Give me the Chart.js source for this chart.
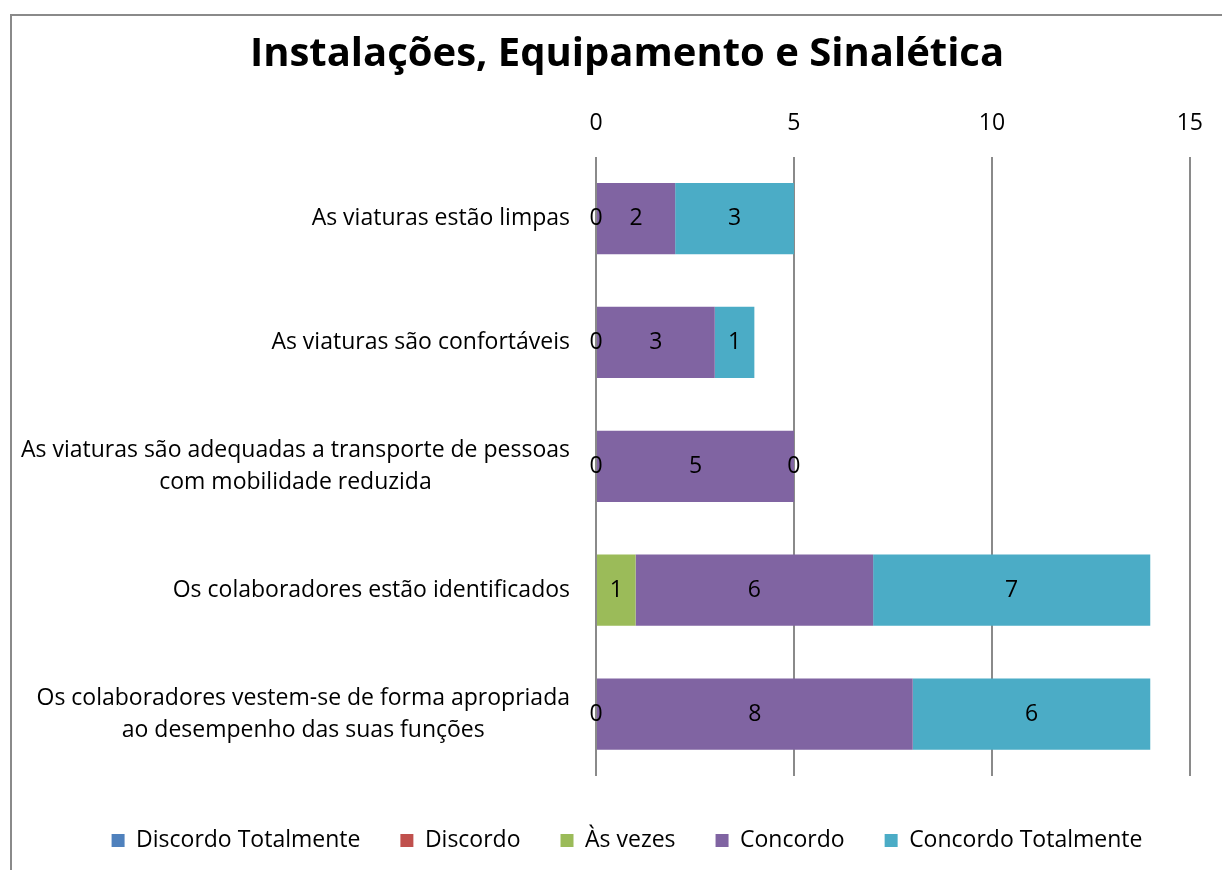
<!DOCTYPE html>
<html><head><meta charset="utf-8">
<script src="https://cdn.jsdelivr.net/npm/chart.js@4/dist/chart.umd.min.js"></script>
<style>html,body{margin:0;padding:0;background:#fff;overflow:hidden}#wrap{width:1222px;height:870px;position:relative}</style>
</head><body><div id="wrap"><canvas id="c" width="1222" height="870"></canvas></div>
<script>
const categories = [
  "As viaturas estão limpas",
  "As viaturas são confortáveis",
  ["As viaturas são adequadas a transporte de pessoas", "com mobilidade reduzida"],
  "Os colaboradores estão identificados",
  ["Os colaboradores vestem-se de forma apropriada", "ao desempenho das suas funções"]
];
const discordoTotalmente = [null, null, null, null, null];
const discordo = [null, null, null, null, null];
const asVezes = [0, 0, 0, 1, 0];
const concordo = [2, 3, 5, 6, 8];
const concordoTotalmente = [3, 1, 0, 7, 6];
const xTicks = [0, 5, 10, 15];

const FONT = "'Open Sans', sans-serif";

const frame = {
  id: 'frame',
  beforeDraw(chart) {
    const c = chart.ctx;
    c.save();
    c.fillStyle = '#fff';
    c.fillRect(0, 0, chart.width, chart.height);
    c.strokeStyle = '#8a8a8a';
    c.lineWidth = 2;
    c.strokeRect(11, 15, 1400, 1000);
    c.restore();
  }
};
// Category labels: block right-aligned next to the axis, lines centred within the block
const categoryLabels = {
  id: 'categoryLabels',
  afterDraw(chart) {
    const c = chart.ctx;
    const ys = chart.scales.y;
    const lh = 32.2;
    c.save();
    c.font = "23px " + FONT;
    c.fillStyle = '#000';
    c.textAlign = 'center';
    c.textBaseline = 'middle';
    const right = chart.chartArea.left - 26;
    chart.data.labels.forEach((lab, i) => {
      const lines = Array.isArray(lab) ? lab : [lab];
      const w = Math.max(...lines.map(l => c.measureText(l).width));
      const cx = right - w / 2;
      const y0 = ys.getPixelForValue(i) - (lines.length - 1) * lh / 2;
      lines.forEach((l, k) => c.fillText(l, cx, y0 + k * lh));
    });
    c.restore();
  }
};
const valueLabels = {
  id: 'valueLabels',
  afterDatasetsDraw(chart) {
    const c = chart.ctx;
    c.save();
    c.font = "23px " + FONT;
    c.fillStyle = '#000';
    c.textAlign = 'center';
    c.textBaseline = 'middle';
    chart.data.datasets.forEach((ds, i) => {
      const meta = chart.getDatasetMeta(i);
      if (meta.hidden) return;
      meta.data.forEach((el, j) => {
        const v = ds.data[j];
        if (v === null || v === undefined) return;
        const p = el.getProps(['x', 'y', 'base'], true);
        c.fillText(String(v), (p.x + p.base) / 2, p.y);
      });
    });
    c.restore();
  }
};

new Chart(document.getElementById('c'), {
  type: 'bar',
  data: {
    labels: categories,
    datasets: [
      { label: 'Discordo Totalmente', data: discordoTotalmente, backgroundColor: '#4F81BD' },
      { label: 'Discordo', data: discordo, backgroundColor: '#C0504D' },
      { label: 'Às vezes', data: asVezes, backgroundColor: '#9BBB59' },
      { label: 'Concordo', data: concordo, backgroundColor: '#8064A2' },
      { label: 'Concordo Totalmente', data: concordoTotalmente, backgroundColor: '#4BACC6' }
    ]
  },
  options: {
    indexAxis: 'y',
    responsive: false,
    animation: false,
    datasets: { bar: { barPercentage: 0.575, categoryPercentage: 1.0, borderWidth: 0 } },
    layout: { padding: { left: 62, right: 30, top: 31, bottom: 8 } },
    scales: {
      x: {
        position: 'top', stacked: true, min: 0, max: 15,
        afterBuildTicks(axis) { axis.ticks = xTicks.map(v => ({ value: v })); },
        grid: { color: '#8a8a8a', lineWidth: 2, drawTicks: false },
        border: { display: false },
        ticks: { color: '#000', font: { family: FONT, size: 23 }, padding: 19, maxRotation: 0 }
      },
      y: {
        stacked: true,
        grid: { display: false, drawTicks: false },
        border: { display: false },
        afterFit(axis) { axis.width = 534; },
        ticks: { display: false }
      }
    },
    plugins: {
      title: { display: true, text: 'Instalações, Equipamento e Sinalética', color: '#000',
        font: { family: FONT, size: 40, weight: 'bold' }, padding: { top: 0, bottom: 12 } },
      legend: { position: 'bottom',
        title: { display: true, text: ' ', font: { size: 13, lineHeight: 1 }, padding: 0 },
        labels: { color: '#000', font: { family: FONT, size: 23 }, boxWidth: 13, boxHeight: 13, padding: 40 } },
      tooltip: { enabled: false }
    }
  },
  plugins: [frame, categoryLabels, valueLabels]
});
</script></body></html>
